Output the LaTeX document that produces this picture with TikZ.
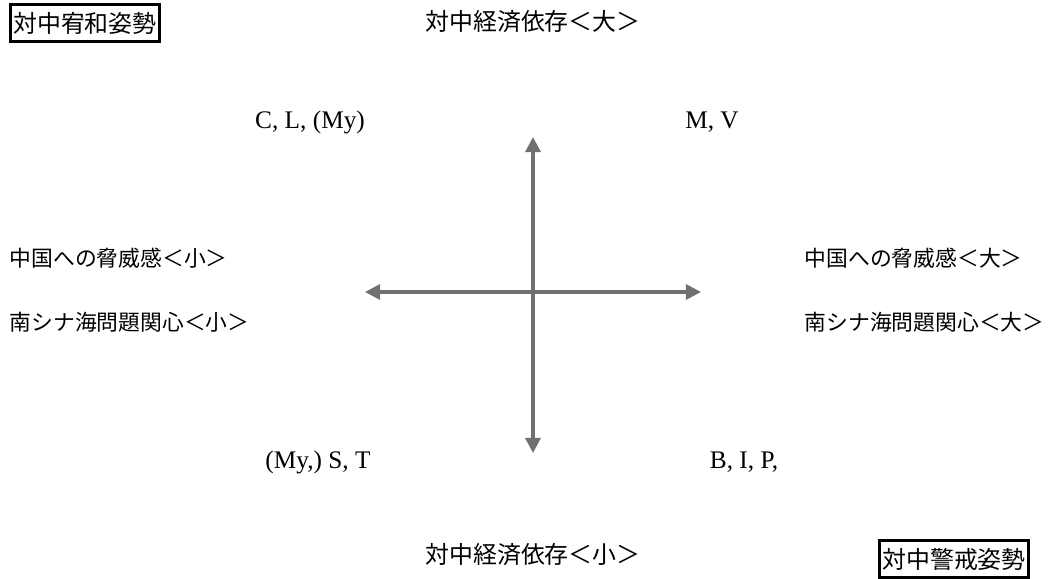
\documentclass[tikz,border=0pt]{standalone}
\usepackage{fontspec}
\setmainfont{Liberation Serif}
\newfontfamily\jpfont{Noto Sans CJK JP}
\usetikzlibrary{arrows.meta}
\definecolor{axisgray}{RGB}{112,112,112}
\tikzset{
  label/.style={font=\fontsize{17}{20}\selectfont\jpfont, inner sep=1pt},
  sidelabel/.style={font=\fontsize{15.5}{18}\selectfont\jpfont, inner sep=1pt, anchor=west},
  group/.style={font=\fontsize{18}{20}\selectfont, inner sep=1pt},
  stance/.style={draw=black, line width=1.8pt, font=\fontsize{17}{20}\selectfont\jpfont,
    inner xsep=2pt, inner ysep=1pt, minimum height=0.92cm},
  axis/.style={{Triangle[length=0.38cm, width=0.38cm]}-{Triangle[length=0.38cm, width=0.38cm]},
    line width=2.2pt, color=axisgray}
}
\begin{document}
\begin{tikzpicture}[x=0.025cm, y=-0.025cm]
  \useasboundingbox (0,0) rectangle (1054,579);
  % stance boxes
  \node[stance] (pro) at (85,23) {対中宥和姿勢};
  \node[stance] (con) at (954,559) {対中警戒姿勢};
  % axis titles
  \node[label] (top) at (533,22) {対中経済依存＜大＞};
  \node[label] (bottom) at (533,555) {対中経済依存＜小＞};
  \node[sidelabel] (threatlow) at (8,258) {中国への脅威感＜小＞};
  \node[sidelabel] (scslow) at (8,322) {南シナ海問題関心＜小＞};
  \node[sidelabel] (threathigh) at (803,258) {中国への脅威感＜大＞};
  \node[sidelabel] (scshigh) at (803,322) {南シナ海問題関心＜大＞};
  % countries
  \node[group] (q1) at (310,122) {C, L, (My)};
  \node[group] (q2) at (712,122) {M, V};
  \node[group] (q3) at (318,462) {(My,) S, T};
  \node[group] (q4) at (744,462) {B, I, P,};
  % axes
  \coordinate (up) at (533,137);
  \coordinate (down) at (533,453);
  \coordinate (west) at (365,292);
  \coordinate (east) at (701,292);
  \draw[axis] (down) -- (up);
  \draw[axis] (west) -- (east);
\end{tikzpicture}
\end{document}
